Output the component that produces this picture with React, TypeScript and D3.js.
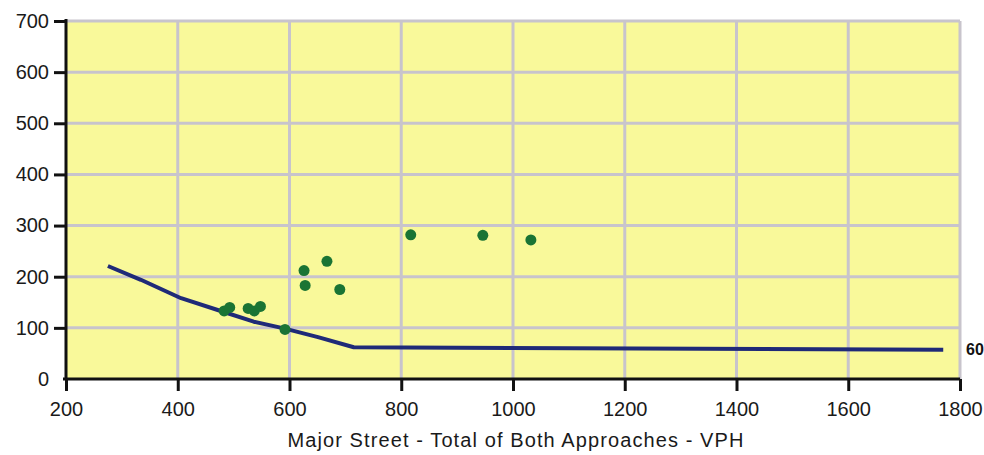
import React, { useEffect, useRef } from 'react';
import * as d3 from 'd3';

// warrant curve (major street VPH, minor street VPH)
const curveX = [275, 334, 406, 477, 536, 590, 651, 715, 1770];
const curveY = [221, 194, 158, 133, 112, 99, 82, 62, 57];

// observed hours
const obsX = [483, 493, 526, 537, 548, 592, 626, 628, 667, 690, 817, 946, 1032];
const obsY = [133, 140, 138, 133, 142, 97, 212, 183, 230, 175, 282, 281, 272];

const xTicks = [200, 400, 600, 800, 1000, 1200, 1400, 1600, 1800];
const yTicks = [0, 100, 200, 300, 400, 500, 600, 700];

const curveLabel = '60';
const xTitle = 'Major Street - Total of Both Approaches - VPH';

const W = 984;
const H = 455;

const App = () => {
  const svgRef = useRef(null);

  useEffect(() => {
    if (!svgRef.current) return;
    const svg = d3.select(svgRef.current);
    svg.selectAll('*').remove();

    const x = d3.scaleLinear().domain([200, 1800]).range([66, 960]);
    const y = d3.scaleLinear().domain([0, 700]).range([379, 21]);
    const font = 'Liberation Sans, Arial, sans-serif';

    // plot background
    svg.append('rect')
      .attr('x', x(200)).attr('y', y(700))
      .attr('width', x(1800) - x(200)).attr('height', y(0) - y(700))
      .attr('fill', '#f9f99a');

    // grid
    const grid = svg.append('g').attr('stroke', '#c8c4cc').attr('stroke-width', 3);
    yTicks.filter(d => d > 0).forEach(d => {
      grid.append('line')
        .attr('x1', x(200)).attr('x2', x(1800))
        .attr('y1', y(d)).attr('y2', y(d));
    });
    xTicks.filter(d => d > 200).forEach(d => {
      grid.append('line')
        .attr('x1', x(d)).attr('x2', x(d))
        .attr('y1', y(700)).attr('y2', y(0));
    });

    // axes
    const fmt = d3.format('d');
    const yAxis = svg.append('g')
      .attr('transform', `translate(${x(200)},0)`)
      .call(d3.axisLeft(y).tickValues(yTicks).tickFormat(fmt).tickSize(12).tickPadding(5));
    const xAxis = svg.append('g')
      .attr('transform', `translate(0,${y(0)})`)
      .call(d3.axisBottom(x).tickValues(xTicks).tickFormat(fmt).tickSize(12).tickPadding(11));

    [yAxis, xAxis].forEach(a => {
      a.select('.domain').attr('stroke', '#111').attr('stroke-width', 3);
      a.selectAll('.tick line').attr('stroke', '#111').attr('stroke-width', 3);
      a.selectAll('.tick text')
        .attr('fill', '#1a1a1a')
        .style('font-family', font)
        .style('font-size', '20px');
    });
    yAxis.select('.domain').attr('d', `M0,${y(700) - 2}V${y(0)}`);
    xAxis.select('.domain').attr('d', `M${x(200) - 3},0H${x(1800)}`);
    yAxis.selectAll('.tick').filter(d => d === 0).select('line').remove();

    // warrant curve
    const pts = curveX.map((v, i) => [v, curveY[i]]);
    svg.append('path')
      .datum(pts)
      .attr('d', d3.line().x(d => x(d[0])).y(d => y(d[1])))
      .attr('fill', 'none')
      .attr('stroke', '#1f2a78')
      .attr('stroke-width', 4)
      .attr('stroke-linejoin', 'round');

    svg.append('text')
      .attr('x', x(1800) + 6)
      .attr('y', y(curveY[curveY.length - 1]))
      .attr('dy', '0.35em')
      .attr('fill', '#111')
      .style('font-family', font)
      .style('font-size', '16px')
      .style('font-weight', 'bold')
      .text(curveLabel);

    // observed points
    svg.append('g')
      .selectAll('circle')
      .data(obsX.map((v, i) => [v, obsY[i]]))
      .join('circle')
      .attr('cx', d => x(d[0]))
      .attr('cy', d => y(d[1]))
      .attr('r', 5.5)
      .attr('fill', '#1a7434');

    // x axis title
    svg.append('text')
      .attr('x', 516)
      .attr('y', 447)
      .attr('text-anchor', 'middle')
      .attr('fill', '#1a1a1a')
      .style('font-family', font)
      .style('font-size', '20px')
      .style('letter-spacing', '1.1px')
      .text(xTitle);
  }, []);

  return (
    <svg
      ref={svgRef}
      width={W}
      height={H}
      style={{ position: 'absolute', left: 0, top: 0, background: '#fff' }}
    />
  );
};

export default App;
